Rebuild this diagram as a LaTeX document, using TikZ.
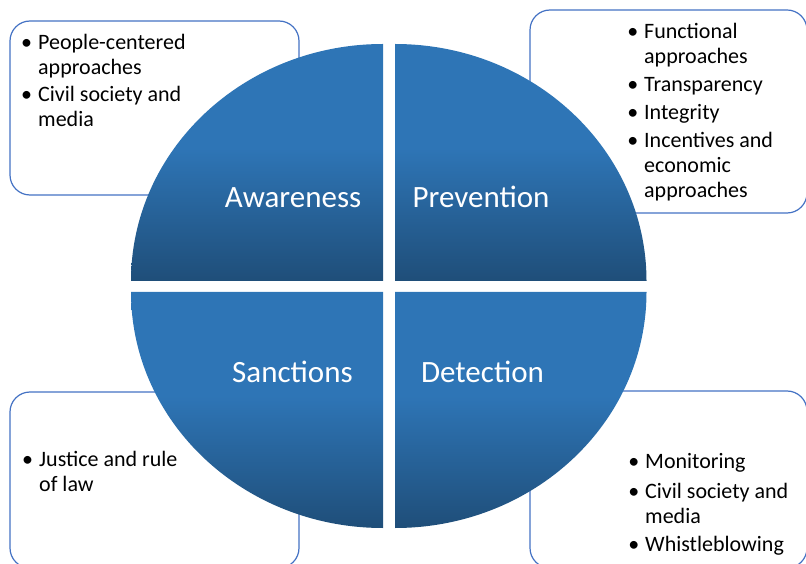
\documentclass[tikz,border=0pt]{standalone}
\usepackage{fontspec}
\setmainfont{Carlito}
\definecolor{qlight}{RGB}{46,117,182}
\definecolor{qdark}{RGB}{31,78,121}
\definecolor{boxline}{RGB}{68,114,196}
\pgfdeclareverticalshading{quadshade}{100bp}{color(0bp)=(qdark); color(25bp)=(qdark); color(53bp)=(qlight); color(100bp)=(qlight)}
\tikzset{
  infobox/.style={draw=boxline, line width=1.2pt, fill=white, rounded corners=20pt},
  quad/.style={shading=quadshade, draw=none},
  qlabel/.style={anchor=base, inner sep=0pt, text=white, font=\fontsize{31}{37}\selectfont},
  item/.style={anchor=base west, inner sep=0pt, text=black, font=\fontsize{22}{25}\selectfont}
}
\newcommand{\bitem}[1]{\begin{tabular}[t]{@{}l@{}}\llap{\textbullet\hspace{6pt}}#1\end{tabular}}
\begin{document}
\begin{tikzpicture}[x=1pt,y=1pt]
\useasboundingbox (0,0) rectangle (806,563);
% boxes behind
\path[infobox] (10,542) rectangle (299,368);
\path[infobox] (530,553) rectangle (807,350);
\path[infobox] (10,171) rectangle (299,-5);
\path[infobox] (530,172) rectangle (807,-5);
% quadrants
\shade[quad] (383,282) -- (131,282) arc[start angle=180, end angle=90, x radius=252, y radius=237] -- cycle;
\shade[quad] (395,282) -- (395,519) arc[start angle=90, end angle=0, x radius=251.5, y radius=237] -- cycle;
\shade[quad] (383,271) -- (131,271) arc[start angle=180, end angle=270, x radius=252, y radius=236] -- cycle;
\shade[quad] (395,271) -- (646.5,271) arc[start angle=0, end angle=-90, x radius=251.5, y radius=236] -- cycle;
% labels
\node[qlabel] (aw) at (293,355) {Awareness};
\node[qlabel] (pr) at (481,355) {Prevention};
\node[qlabel] (sa) at (292.5,181) {Sanctions};
\node[qlabel] (de) at (482.5,181) {Detection};
% bullet texts
\node[item] (aw1) at (38,513) {\bitem{People-centered\\approaches}};
\node[item] (aw2) at (38,461) {\bitem{Civil society and\\media}};
\node[item] (pr1) at (644,524) {\bitem{Functional\\approaches}};
\node[item] (pr2) at (644,471) {\bitem{Transparency}};
\node[item] (pr3) at (644,443) {\bitem{Integrity}};
\node[item] (pr4) at (644,415) {\bitem{Incentives and\\economic\\approaches}};
\node[item] (sa1) at (39,97) {\bitem{Justice and rule\\of law}};
\node[item] (de1) at (645,95) {\bitem{Monitoring}};
\node[item] (de2) at (645,65) {\bitem{Civil society and\\media}};
\node[item] (de3) at (645,12) {\bitem{Whistleblowing}};
\end{tikzpicture}
\end{document}
